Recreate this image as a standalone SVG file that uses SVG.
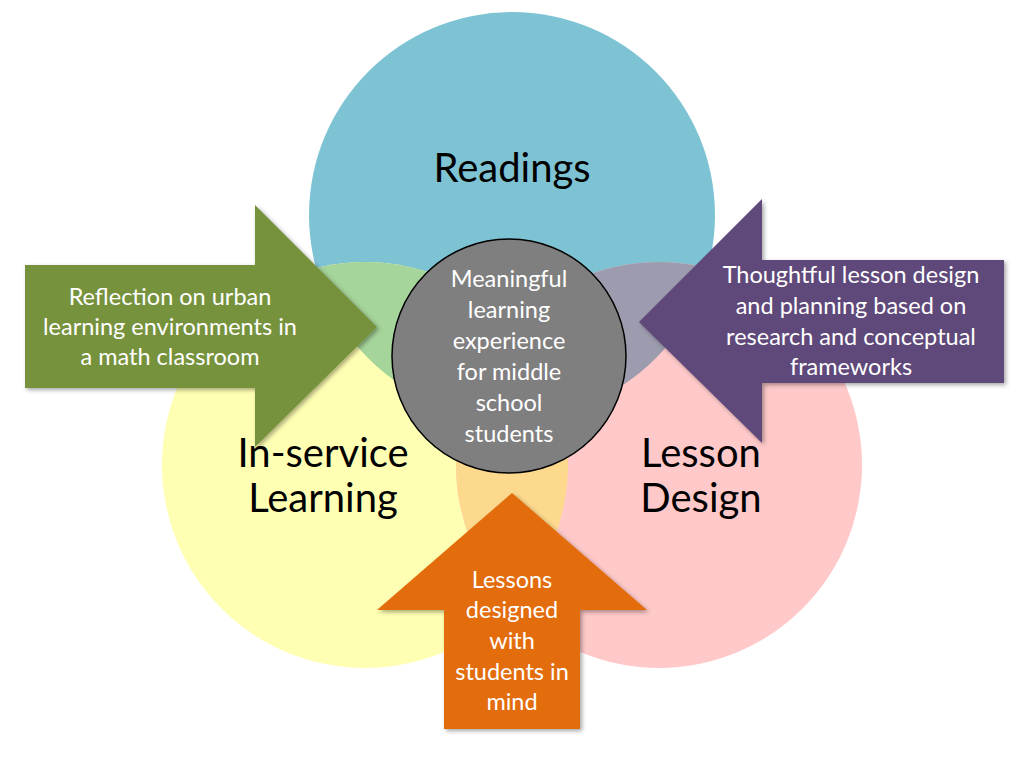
<svg xmlns="http://www.w3.org/2000/svg" width="1024" height="768" viewBox="0 0 1024 768">
<defs>
<style>
.big{font-family:Lato,"Open Sans","Liberation Sans",sans-serif;font-size:40px;fill:#000;text-anchor:middle}
.sm{font-family:Lato,"Open Sans","Liberation Sans",sans-serif;font-size:23.5px;fill:#fff;text-anchor:middle}
</style>
<clipPath id="cB"><circle cx="512" cy="215" r="203"/></clipPath>
<clipPath id="cY"><circle cx="365" cy="465" r="203"/></clipPath>
<clipPath id="cP"><circle cx="659" cy="465" r="203"/></clipPath>
<filter id="sh" x="-10%" y="-10%" width="130%" height="130%">
<feDropShadow dx="2" dy="2" stdDeviation="2" flood-color="#000" flood-opacity="0.35"/>
</filter>
</defs>
<rect width="1024" height="768" fill="#fff"/>
<g id="circles">
<g id="readings">
<circle cx="512" cy="215" r="203" fill="#7EC3D4"/>
</g>
<g id="inservice">
<circle cx="365" cy="465" r="203" fill="#FFFFB3"/>
</g>
<g id="lessondesign">
<circle cx="659" cy="465" r="203" fill="#FFC9C9"/>
</g>
<g id="overlaps">
<circle cx="365" cy="465" r="203" fill="#A5D59B" clip-path="url(#cB)"/>
<circle cx="659" cy="465" r="203" fill="#9C9CAE" clip-path="url(#cB)"/>
<circle cx="659" cy="465" r="203" fill="#FDD98E" clip-path="url(#cY)"/>
</g>
<text class="big" x="512" y="182">Readings</text>
<text class="big" x="323" y="467">In-service</text>
<text class="big" x="323" y="512">Learning</text>
<text class="big" x="701" y="467">Lesson</text>
<text class="big" x="701" y="512">Design</text>
</g>
<g id="center">
<circle cx="509" cy="356" r="117" fill="#7F7F7F" stroke="#000" stroke-width="1.5"/>
<text class="sm" x="509" y="287">Meaningful</text>
<text class="sm" x="509" y="318">learning</text>
<text class="sm" x="509" y="349">experience</text>
<text class="sm" x="509" y="380">for middle</text>
<text class="sm" x="509" y="411">school</text>
<text class="sm" x="509" y="442">students</text>
</g>
<g id="connectors">
<g id="arrow-green">
<polygon points="25,265 255,265 255,205 377,327 255,447 255,388 25,388" fill="#76923C" filter="url(#sh)"/>
<text class="sm" x="170" y="305">Reflection on urban</text>
<text class="sm" x="170" y="335">learning environments in</text>
<text class="sm" x="170" y="365">a math classroom</text>
</g>
<g id="arrow-purple">
<polygon points="1004,260 762,260 762,199 639,322 762,443 762,383 1004,383" fill="#5F497A" filter="url(#sh)"/>
<text class="sm" x="851" y="283">Thoughtful lesson design</text>
<text class="sm" x="851" y="314">and planning based on</text>
<text class="sm" x="851" y="345">research and conceptual</text>
<text class="sm" x="851" y="375">frameworks</text>
</g>
<g id="arrow-orange">
<polygon points="444,729 444,610 377,610 512,493 647,610 580,610 580,729" fill="#E36C09" filter="url(#sh)"/>
<text class="sm" x="512" y="588">Lessons</text>
<text class="sm" x="512" y="618">designed</text>
<text class="sm" x="512" y="649">with</text>
<text class="sm" x="512" y="680">students in</text>
<text class="sm" x="512" y="710">mind</text>
</g>
</g>
</svg>
